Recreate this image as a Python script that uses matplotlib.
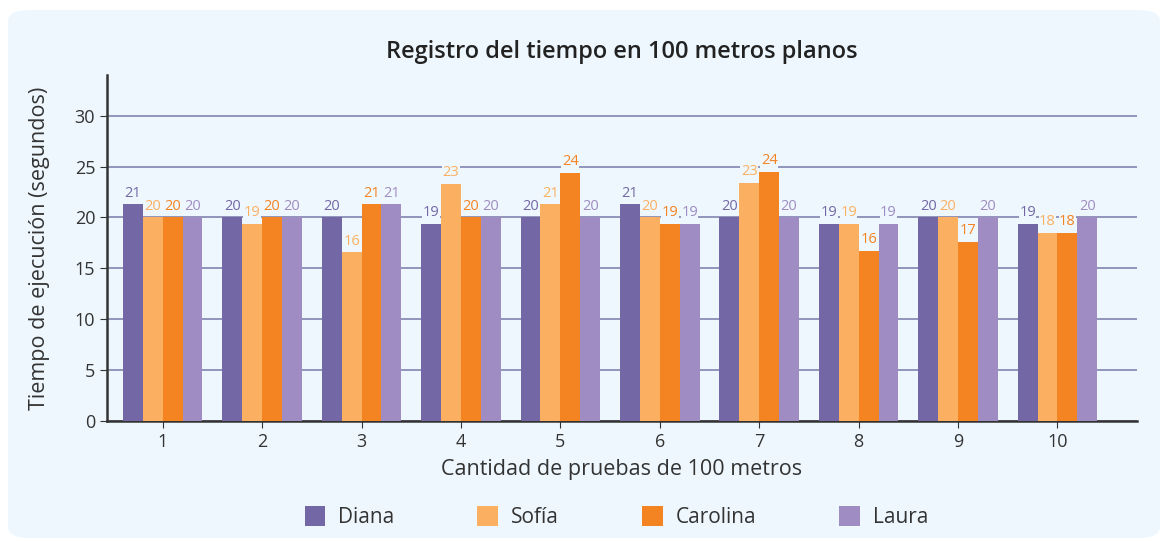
import matplotlib.pyplot as plt
import numpy as np
from matplotlib.patches import FancyBboxPatch

plt.rcParams['font.family'] = ['Open Sans', 'DejaVu Sans']

pruebas = [1, 2, 3, 4, 5, 6, 7, 8, 9, 10]
nombres = ['Diana', 'Sofía', 'Carolina', 'Laura']
diana = [21.3, 20, 20, 19.4, 20, 21.3, 20, 19.4, 20, 19.4]
sofia = [20, 19.4, 16.6, 23.3, 21.3, 20, 23.4, 19.4, 20, 18.5]
carolina = [20, 20, 21.3, 20, 24.4, 19.4, 24.5, 16.7, 17.6, 18.5]
laura = [20, 20, 21.3, 20, 20, 19.4, 20, 19.4, 20, 20]
etiquetas = [
    [21, 20, 20, 19, 20, 21, 20, 19, 20, 19],
    [20, 19, 16, 23, 21, 20, 23, 19, 20, 18],
    [20, 20, 21, 20, 24, 19, 24, 16, 17, 18],
    [20, 20, 21, 20, 20, 19, 20, 19, 20, 20],
]
colores = ['#7367a6', '#fbb061', '#f48322', '#9e8cc2']

bg = '#eef7fd'
fig = plt.figure(figsize=(11.65, 5.41), dpi=100)
fig.patch.set_facecolor('white')
panel = FancyBboxPatch((8 / 1165, 3 / 541), 1152 / 1165, 528 / 541,
                       boxstyle='round,pad=0,rounding_size=0.02',
                       transform=fig.transFigure, facecolor=bg,
                       edgecolor='none', zorder=-10)
fig.patches.append(panel)

ax = fig.add_axes([107 / 1165, 120 / 541, 1030 / 1165, 346 / 541])
ax.set_facecolor(bg)

x = np.array(pruebas)
w = 0.2
series = [diana, sofia, carolina, laura]
for i, (vals, c) in enumerate(zip(series, colores)):
    pos = x + (i - 1.5) * w
    ax.bar(pos, vals, width=w, color=c, label=nombres[i], zorder=3)
    for p, v, t in zip(pos, vals, etiquetas[i]):
        ax.text(p, v + 0.35, str(t), ha='center', va='bottom', fontsize=10.5,
                color=c, zorder=4,
                bbox=dict(facecolor=bg, edgecolor='none', pad=0.3))

ax.set_xlim(0.44, 10.8)
ax.set_ylim(0, 34)
ax.set_yticks(range(0, 31, 5))
ax.set_xticks(pruebas)
ax.grid(axis='y', color='#8b8db5', linewidth=1.3, zorder=0)
for s in ['top', 'right']:
    ax.spines[s].set_visible(False)
for s in ['left', 'bottom']:
    ax.spines[s].set_color('#333333')
    ax.spines[s].set_linewidth(1.8)
ax.tick_params(axis='both', labelsize=13, colors='#333333', length=5)

ax.set_title('Registro del tiempo en 100 metros planos', fontsize=17,
             fontweight='semibold', color='#222222', pad=12)
ax.set_xlabel('Cantidad de pruebas de 100 metros', fontsize=15.5,
              color='#333333', labelpad=6)
ax.set_ylabel('Tiempo de ejecución (segundos)', fontsize=15.5,
              color='#333333', labelpad=18)

fig.legend(loc='center', bbox_to_anchor=(0.529, 24 / 541), ncol=4,
           frameon=False, fontsize=15, handlelength=1.0, handleheight=1.1,
           columnspacing=4.0, handletextpad=0.6, labelcolor='#333333')

fig.savefig('out.png', dpi=100, facecolor='white')
